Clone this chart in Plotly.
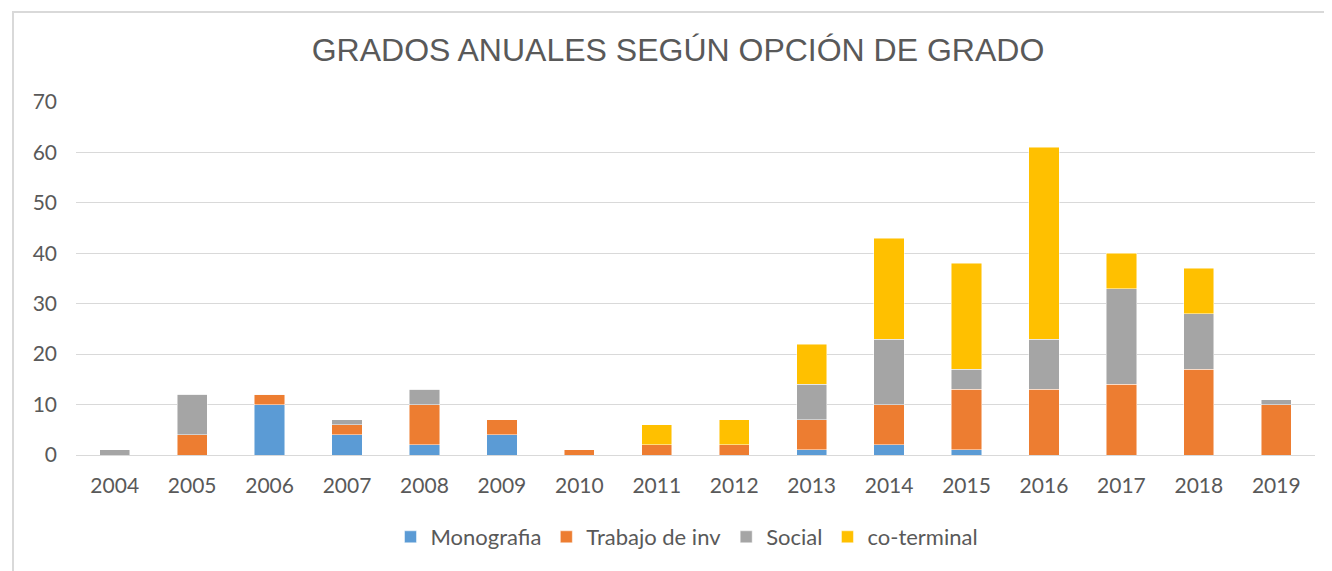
import plotly.graph_objects as go

years = ["2004", "2005", "2006", "2007", "2008", "2009", "2010", "2011",
         "2012", "2013", "2014", "2015", "2016", "2017", "2018", "2019"]
monografia = [0, 0, 10, 4, 2, 4, 0, 0, 0, 1, 2, 1, 0, 0, 0, 0]
trabajo_inv = [0, 4, 2, 2, 8, 3, 1, 2, 2, 6, 8, 12, 13, 14, 17, 10]
social = [1, 8, 0, 1, 3, 0, 0, 0, 0, 7, 13, 4, 10, 19, 11, 1]
co_terminal = [0, 0, 0, 0, 0, 0, 0, 4, 5, 8, 20, 21, 38, 7, 9, 0]

series = [
    ("Monografia", monografia, "#5B9BD5"),
    ("Trabajo de inv", trabajo_inv, "#ED7D31"),
    ("Social", social, "#A5A5A5"),
    ("co-terminal", co_terminal, "#FFC000"),
]

fig = go.Figure()
for name, vals, color in series:
    fig.add_trace(go.Bar(
        x=years, y=vals, name=name,
        marker=dict(color=color, line=dict(color="rgba(255,255,255,0.6)", width=0.8)),
    ))

# page body has an 8px margin; figure sized to fit the window
OFF = 8
W, H = 1332 - OFF, 571 - OFF
L, T = 76 - OFF, 102 - OFF
R = W - (1315 - OFF)
B = H - (455 - OFF)
pw = W - L - R
ph = H - T - B

fig.update_layout(
    width=W, height=H,
    barmode="stack",
    bargap=0.61,
    paper_bgcolor="white",
    plot_bgcolor="white",
    margin=dict(l=L, r=R, t=T, b=B),
    font=dict(family="Lato, Liberation Sans, sans-serif", size=20, color="#595959"),
    title=dict(
        text="GRADOS ANUALES SEGÚN OPCIÓN DE GRADO",
        font=dict(family="Liberation Sans, Arial, sans-serif", size=32, color="#595959"),
        x=(678 - OFF) / W, xanchor="center",
        y=1 - (50 - OFF) / H, yanchor="middle", yref="container",
    ),
    xaxis=dict(
        showgrid=False,
        showline=True, linecolor="#D9D9D9", linewidth=1,
        ticks="",
        ticklabelstandoff=12,
        tickfont=dict(size=21, color="#595959"),
    ),
    yaxis=dict(
        range=[0, 70],
        dtick=10,
        showgrid=True, gridcolor="#D9D9D9", gridwidth=1,
        zeroline=False,
        showline=False,
        ticks="",
        ticklabelstandoff=18,
        tickfont=dict(size=21, color="#595959"),
    ),
    legend=dict(
        orientation="h",
        x=(687 - OFF - L) / pw, xanchor="center",
        y=(455 - 537) / ph, yanchor="middle",
        font=dict(size=22, color="#595959"),
        traceorder="normal",
        itemwidth=30,
    ),
    shapes=[
        dict(type="rect", xref="paper", yref="paper",
             x0=(13 - 76) / pw, x1=1.2,
             y0=(455 - 12) / ph, y1=-0.6,
             line=dict(color="#D9D9D9", width=2), fillcolor="rgba(0,0,0,0)",
             layer="below"),
    ],
)

fig.write_html("out.html")
